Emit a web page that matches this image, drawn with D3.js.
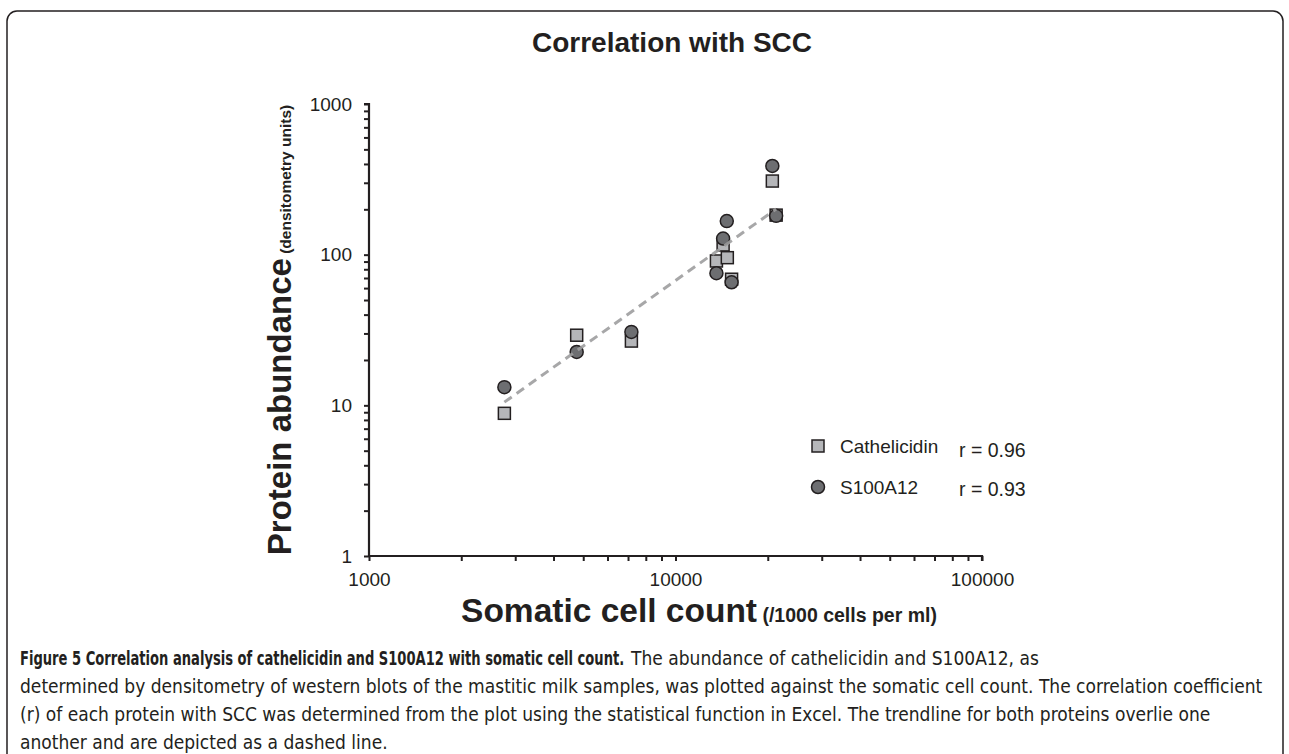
<!DOCTYPE html>
<html>
<head>
<meta charset="utf-8">
<script src="https://cdn.jsdelivr.net/npm/d3@7"></script>
<style>
  body { margin: 0; background: #fff; }
  svg text { font-family: "Liberation Sans", Arial, Helvetica, sans-serif; fill: #231f20; }
  .caption text { font-family: "Liberation Sans Narrow", "DejaVu Sans Condensed", "Liberation Sans", sans-serif; font-stretch: condensed; }
</style>
</head>
<body>
<div id="chart"></div>
<script>
// values (log-log plot)
var cathX = [2765, 4760, 7180, 13600, 14300, 14760, 15240, 20700, 21300];
var cathY = [8.85, 29.2, 26.7, 90.8, 116, 95.5, 68.7, 308, 183];
var s100X = [2765, 4760, 7180, 13600, 14300, 14700, 15240, 20700, 21300];
var s100Y = [13.2, 22.6, 30.7, 75.3, 128, 167, 65.6, 388, 181];
var trendX = [2765, 21300];
var trendY = [10.5, 201];
var xTicks = [1000, 10000, 100000];
var yTicks = [1, 10, 100, 1000];
var seriesNames = ["Cathelicidin", "S100A12"];
var rValues = ["r = 0.96", "r = 0.93"];
var captionBold = "Figure 5 Correlation analysis of cathelicidin and S100A12 with somatic cell count.";
var captionLines = [
    "The abundance of cathelicidin and S100A12, as",
    "determined by densitometry of western blots of the mastitic milk samples, was plotted against the somatic cell count. The correlation coefficient",
    "(r) of each protein with SCC was determined from the plot using the statistical function in Excel. The trendline for both proteins overlie one",
    "another and are depicted as a dashed line."
];

var svg_width = 1289, svg_height = 754;
var svg = d3.select("#chart").append("svg")
    .attr("width", svg_width)
    .attr("height", svg_height);

// rounded frame, runs off the bottom of the picture
svg.append("rect")
    .attr("x", 7).attr("y", 11)
    .attr("width", 1276).attr("height", 800)
    .attr("rx", 10)
    .attr("fill", "none")
    .attr("stroke", "#231f20")
    .attr("stroke-width", 1.5);

var x = d3.scaleLog().domain([1000, 100000]).range([369, 982]);
var y = d3.scaleLog().domain([1, 1000]).range([556, 104]);

// minor ticks 1..9 in each decade
function minorTicks(scale) {
    var d = scale.domain(), out = [];
    for (var p = Math.log10(d[0]); p <= Math.log10(d[1]); p++) {
        for (var m = 1; m < 10; m++) {
            var v = m * Math.pow(10, p);
            if (v <= d[1]) out.push(v);
        }
    }
    return out;
}

var gx = svg.append("g")
    .attr("class", "axis")
    .attr("transform", "translate(0," + y(1) + ")")
    .call(d3.axisBottom(x).tickValues(minorTicks(x))
        .tickFormat(function(d) { return xTicks.indexOf(d) >= 0 ? String(d) : ""; })
        .tickSize(5).tickPadding(12));

var gy = svg.append("g")
    .attr("class", "axis")
    .attr("transform", "translate(" + x(1000) + ",0)")
    .call(d3.axisLeft(y).tickValues(minorTicks(y))
        .tickFormat(function(d) { return yTicks.indexOf(d) >= 0 ? String(d) : ""; })
        .tickSize(5).tickPadding(12));

svg.selectAll(".axis .domain").attr("stroke", "#231f20").attr("stroke-width", 2.2);
svg.selectAll(".axis .tick line").attr("stroke", "#231f20").attr("stroke-width", 2);
svg.selectAll(".axis text").attr("font-size", 19).attr("fill", "#231f20")
    .attr("font-family", "Liberation Sans, Arial, sans-serif");

gx.select(".domain").attr("d", "M" + x(1000) + ",0H" + x(100000) + "V5");
gy.select(".domain").attr("d", "M-5," + y(1000) + "H0V" + y(1));

// points: squares under circles
var sq = 12;
svg.append("g").selectAll("rect")
    .data(d3.range(cathX.length))
    .enter().append("rect")
    .attr("x", function(i) { return x(cathX[i]) - sq / 2; })
    .attr("y", function(i) { return y(cathY[i]) - sq / 2; })
    .attr("width", sq).attr("height", sq)
    .attr("fill", "#b5b6b9")
    .attr("stroke", "#231f20")
    .attr("stroke-width", 1.5);

svg.append("g").selectAll("circle")
    .data(d3.range(s100X.length))
    .enter().append("circle")
    .attr("cx", function(i) { return x(s100X[i]); })
    .attr("cy", function(i) { return y(s100Y[i]); })
    .attr("r", 6.5)
    .attr("fill", "#6d6e71")
    .attr("stroke", "#231f20")
    .attr("stroke-width", 1.5);

// dashed trendline
var line = d3.line()
    .x(function(i) { return x(trendX[i]); })
    .y(function(i) { return y(trendY[i]); });
svg.append("path")
    .datum(d3.range(trendX.length))
    .attr("d", line)
    .attr("fill", "none")
    .attr("stroke", "#9d9d9f")
    .attr("stroke-opacity", 0.9)
    .attr("stroke-width", 3)
    .attr("stroke-dasharray", "9,6");

// title
svg.append("text")
    .attr("x", 672).attr("y", 52)
    .attr("text-anchor", "middle")
    .attr("font-size", 28).attr("font-weight", "bold")
    .text("Correlation with SCC");

// axis titles
var ylab = svg.append("text")
    .attr("transform", "translate(291,330) rotate(-90)")
    .attr("text-anchor", "middle")
    .attr("font-weight", "bold");
ylab.append("tspan").attr("font-size", 33).text("Protein abundance");
ylab.append("tspan").attr("font-size", 15.5).text(" (densitometry units)");

var xlab = svg.append("text")
    .attr("x", 699).attr("y", 622)
    .attr("text-anchor", "middle")
    .attr("font-weight", "bold");
xlab.append("tspan").attr("font-size", 33.5).text("Somatic cell count");
xlab.append("tspan").attr("font-size", 19.5).text(" (/1000 cells per ml)");

// legend
var legend = svg.selectAll(".legend")
    .data(seriesNames)
    .enter().append("g")
    .attr("class", "legend")
    .attr("transform", function(d, i) { return "translate(818," + (446 + i * 41) + ")"; });

legend.filter(function(d, i) { return i === 0; }).append("rect")
    .attr("x", -sq / 2).attr("y", -sq / 2)
    .attr("width", sq).attr("height", sq)
    .attr("fill", "#b5b6b9").attr("stroke", "#231f20").attr("stroke-width", 1.5);
legend.filter(function(d, i) { return i === 1; }).append("circle")
    .attr("r", 6.5)
    .attr("fill", "#6d6e71").attr("stroke", "#231f20").attr("stroke-width", 1.5);

legend.append("text")
    .attr("x", 22)
    .attr("dy", "0.35em")
    .attr("font-size", 19)
    .text(function(d) { return d; });

legend.append("text")
    .attr("x", 141)
    .attr("y", function(d, i) { return i === 0 ? 4 : 2; })
    .attr("dy", "0.35em")
    .attr("font-size", 19.5)
    .text(function(d, i) { return rValues[i]; });

// caption: bold lead-in is a narrower face in the original, squeeze it horizontally
var cap = svg.append("g").attr("class", "caption");
var boldW = 605;
var bold = cap.append("text")
    .attr("font-size", 19).attr("font-weight", "bold")
    .text(captionBold);
var natural = bold.node().getComputedTextLength();
bold.attr("transform", "translate(20,665) scale(" + (boldW / natural) + ",1)");

captionLines.forEach(function(t, i) {
    cap.append("text")
        .attr("x", i === 0 ? 20 + boldW + 6 : 20)
        .attr("y", 665 + i * 28)
        .attr("font-size", 19)
        .attr("fill", "#444")
        .text(t);
});
</script>
</body>
</html>
